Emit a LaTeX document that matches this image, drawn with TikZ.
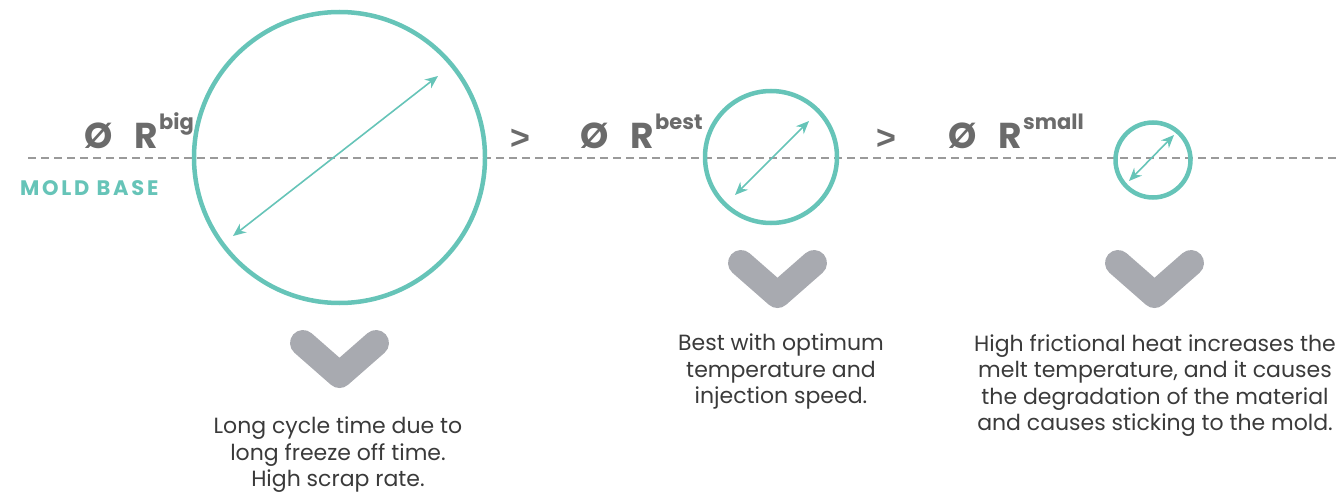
\documentclass[tikz,border=0pt]{standalone}
\usepackage{fontspec}
\setmainfont{Poppins}
\newfontfamily\gtfont{Liberation Sans}
\usetikzlibrary{arrows.meta}
\definecolor{teal1}{HTML}{66C4B8}
\definecolor{chev}{HTML}{A8AAB0}
\definecolor{dashgray}{HTML}{9A9A9A}
\definecolor{labgray}{HTML}{6B6B6B}
\definecolor{txtgray}{HTML}{3A3A3A}
\tikzset{
  ring/.style={draw=teal1,line width=4.5pt,circle,inner sep=0pt},
  diam/.style={draw=teal1,line width=1.6pt,{Stealth[length=13pt,width=11pt]}-{Stealth[length=13pt,width=11pt]}},
  chevron/.style={draw=chev,line width=26pt,line cap=round,line join=round},
  rlabel/.style={text=labgray,font=\fontsize{36}{40}\selectfont\bfseries,inner sep=0pt,anchor=base west},
  gtlabel/.style={text=labgray,font=\gtfont\fontsize{34}{38}\selectfont\bfseries,inner sep=0pt,anchor=base west},
  sup/.style={text=labgray,font=\fontsize{21}{24}\selectfont\bfseries,inner sep=0pt,anchor=base west},
  body/.style={text=txtgray,font=\fontsize{22}{26.5}\selectfont,align=center,inner sep=0pt,anchor=north},
}
\begin{document}
\begin{tikzpicture}[x=1pt,y=-1pt]
\useasboundingbox (0,0) rectangle (1336,495);
% mold base line
\draw[dashgray,line width=2.5pt,dash pattern=on 8pt off 5pt] (28,158) -- (1336,158);
\node[text=teal1,font=\fontsize{21}{24}\selectfont\bfseries\addfontfeature{LetterSpace=13},anchor=base west,inner sep=0pt] (mb) at (20,195) {MOLD BASE};
% circles
\node[ring,minimum size=291pt] (big) at (339.5,157.5) {};
\node[ring,minimum size=132pt] (best) at (771,157) {};
\node[ring,minimum size=75pt] (small) at (1153,160) {};
% diameters
\coordinate (b1) at (233,236); \coordinate (b2) at (438,76);
\draw[diam] (b1) -- (b2);
\coordinate (m1) at (735,195); \coordinate (m2) at (809,121);
\draw[diam] (m1) -- (m2);
\coordinate (s1) at (1129,181); \coordinate (s2) at (1174,135);
\draw[diam] (s1) -- (s2);
% labels
\node[rlabel] (o1) at (84,148) {Ø};
\node[rlabel] (r1) at (134,148) {R};
\node[sup] (p1) at (159,129) {big};
\node[gtlabel] (g1) at (510,149) {>};
\node[rlabel] (o2) at (580,148) {Ø};
\node[rlabel] (r2) at (630,148) {R};
\node[sup] (p2) at (655,129) {best};
\node[gtlabel] (g2) at (876,149) {>};
\node[rlabel] (o3) at (948,148) {Ø};
\node[rlabel] (r3) at (998,148) {R};
\node[sup] (p3) at (1023,129) {small};
% chevrons
\draw[chevron] (303,343) -- (339.5,375) -- (376,343);
\draw[chevron] (741,263) -- (777.5,295) -- (814,263);
\draw[chevron] (1118,263) -- (1154.5,295) -- (1191,263);
% texts
\node[body] (t1) at (338,417) {Long cycle time due to\\long freeze off time.\\High scrap rate.};
\node[body] (t2) at (781,334) {Best with optimum\\temperature and\\injection speed.};
\node[body] (t3) at (1155,334) {High frictional heat increases the\\melt temperature, and it causes\\the degradation of the material\\and causes sticking to the mold.};
\end{tikzpicture}
\end{document}
